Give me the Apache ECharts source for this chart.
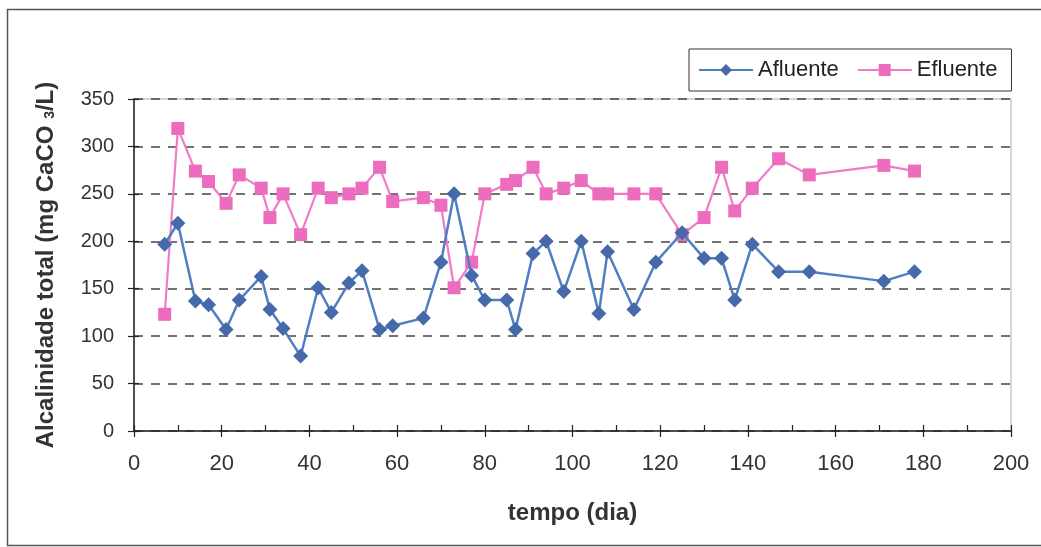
<!DOCTYPE html>
<html>
<head>
<meta charset="utf-8">
<script src="https://cdn.jsdelivr.net/npm/echarts@6/dist/echarts.min.js"></script>
<style>
  html, body { margin: 0; padding: 0; background: #fff; }
  #chart { width: 1041px; height: 547px; }
</style>
</head>
<body>
<div id="chart"></div>
<script>
// Sampling days (tempo, dia)
const days = [7, 10, 14, 17, 21, 24, 29, 31, 34, 38, 42, 45, 49, 52, 56, 59, 66, 70, 73, 77,
              80, 85, 87, 91, 94, 98, 102, 106, 108, 114, 119, 125, 130, 134, 137, 141, 147, 154, 171, 178];

// Total alkalinity, mg CaCO3/L
const afluente = [197, 219, 137, 133, 107, 138, 163, 128, 108, 79, 151, 125, 156, 169, 107, 111, 119, 178, 250, 164,
                  138, 138, 107, 187, 200, 147, 200, 124, 189, 128, 178, 209, 182, 182, 138, 197, 168, 168, 158, 168];
const efluente = [123, 319, 274, 263, 240, 270, 256, 225, 250, 207, 256, 246, 250, 256, 278, 242, 246, 238, 151, 178,
                  250, 260, 264, 278, 250, 256, 264, 250, 250, 250, 250, 207, 225, 278, 232, 256, 287, 270, 280, 274];

const xTicks = { min: 0, max: 200, interval: 20 };
const yTicks = { min: 0, max: 350, interval: 50 };

const pair = (xs, ys) => xs.map((d, i) => [d, ys[i]]);

const font = 'Liberation Sans, Arial, sans-serif';
const chart = echarts.init(document.getElementById('chart'), null, { renderer: 'canvas' });

chart.setOption({
  backgroundColor: '#ffffff',
  animation: false,
  graphic: [{
    type: 'rect',
    shape: { x: 7.5, y: 9.5, width: 1045, height: 536 },
    style: { fill: 'none', stroke: '#555', lineWidth: 1.5 },
    silent: true
  }],
  legend: {
    left: 689,
    top: 49,
    padding: [10, 14, 10, 9],
    itemGap: 18,
    itemWidth: 54,
    itemHeight: 15,
    borderColor: '#333',
    borderWidth: 1,
    textStyle: { fontFamily: font, fontSize: 22, color: '#222' },
    data: ['Afluente', 'Efluente']
  },
  grid: {
    left: 134, right: 30, top: 99, bottom: 116,
    show: true,
    borderColor: '#aaa',
    borderWidth: 1
  },
  xAxis: [{
    type: 'value',
    min: xTicks.min, max: xTicks.max, interval: xTicks.interval,
    name: 'tempo (dia)',
    nameLocation: 'middle',
    nameGap: 70,
    nameTextStyle: { fontFamily: font, fontSize: 24, fontWeight: 'bold', color: '#333' },
    axisLine: { lineStyle: { color: '#222', width: 1.5 } },
    axisTick: { show: true, inside: false, length: 6, lineStyle: { color: '#222', width: 1.2 } },
    axisLabel: { fontFamily: font, fontSize: 22, color: '#333', margin: 22 },
    splitLine: { show: false }
  }, {
    type: 'value',
    position: 'bottom',
    min: xTicks.min, max: xTicks.max, interval: xTicks.interval,
    axisLine: { show: false },
    axisTick: { show: true, inside: true, length: 6, lineStyle: { color: '#222', width: 1.2 } },
    minorTick: { show: true, splitNumber: 2, length: 6, lineStyle: { color: '#222', width: 1.2 } },
    axisLabel: { show: false },
    splitLine: { show: false }
  }],
  yAxis: [{
    type: 'value',
    min: yTicks.min, max: yTicks.max, interval: yTicks.interval,
    name: 'Alcalinidade total (mg CaCO {sub|3}/L)',
    nameLocation: 'middle',
    nameGap: 76,
    nameTextStyle: {
      fontFamily: font, fontSize: 24, fontWeight: 'bold', color: '#333',
      rich: { sub: { fontFamily: font, fontSize: 14, fontWeight: 'bold', color: '#333', padding: [9, 0, 0, 0] } }
    },
    axisLine: { show: true, lineStyle: { color: '#222', width: 1.5 } },
    axisTick: { show: true, inside: false, length: 6, lineStyle: { color: '#222', width: 1.2 } },
    axisLabel: { fontFamily: font, fontSize: 20, color: '#333', margin: 20 },
    splitLine: { show: true, lineStyle: { color: '#444', width: 1.5, type: [9, 8] } }
  }, {
    type: 'value',
    position: 'left',
    min: yTicks.min, max: yTicks.max, interval: yTicks.interval,
    axisLine: { show: false },
    axisTick: { show: true, inside: true, length: 5, lineStyle: { color: '#222', width: 1.2 } },
    axisLabel: { show: false },
    splitLine: { show: false }
  }],
  series: [{
    name: 'Afluente',
    type: 'line',
    data: pair(days, afluente),
    symbol: 'diamond',
    symbolSize: 15,
    itemStyle: { color: '#4569a9' },
    lineStyle: { color: '#4f7fc0', width: 2.5 },
    z: 3
  }, {
    name: 'Efluente',
    type: 'line',
    data: pair(days, efluente),
    symbol: 'rect',
    symbolSize: 13,
    itemStyle: { color: '#ec6cbe' },
    lineStyle: { color: '#f07cc8', width: 2.2 },
    z: 2
  }]
});
</script>
</body>
</html>
